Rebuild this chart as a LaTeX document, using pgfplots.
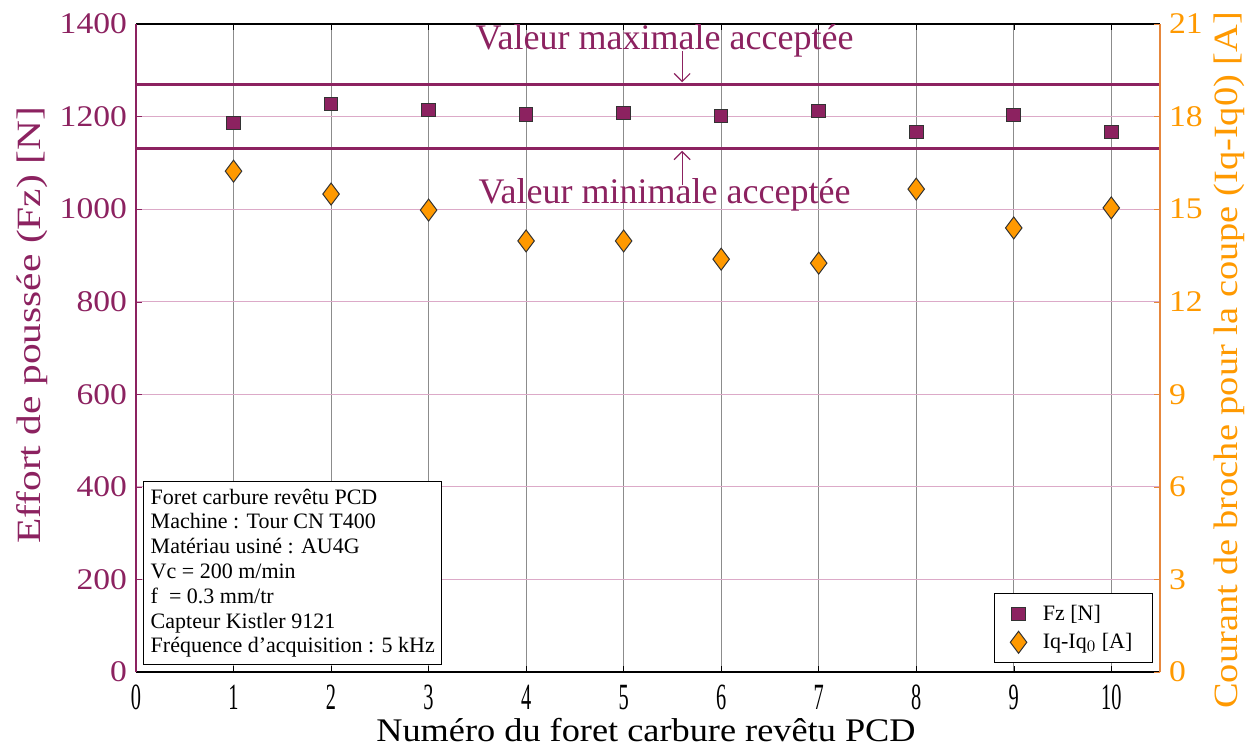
\documentclass[border=0pt]{standalone}
\usepackage{pgfplots}
\pgfplotsset{compat=1.18}
\usepackage{fontspec}
\setmainfont{Liberation Serif}
\usepackage{graphicx}
\usetikzlibrary{arrows.meta}
\definecolor{prp}{RGB}{140,34,96}
\definecolor{org}{RGB}{255,153,0}
\definecolor{orgax}{RGB}{230,135,60}
\definecolor{pgrid}{RGB}{220,170,200}
\begin{document}
\begin{tikzpicture}
\pgfplotsset{
  common/.style={scale only axis, width=512pt, height=324pt,
    xmin=0, xmax=10.5,
    /pgf/number format/assume math mode=true,
    /pgf/number format/1000 sep={},
    tick align=inside, major tick length=3pt,
    clip=false},
}
\begin{axis}[common, name=ax1,
  ymin=0, ymax=1400,
  xtick={0,...,10}, ytick={0,200,...,1400},
  axis y line*=left,
  y axis line style={prp, line width=0.8pt},
  x axis line style={black, line width=0.8pt},
  xmajorgrids, ymajorgrids,
  x grid style={gray!90, line width=0.35pt},
  y grid style={pgrid, line width=0.45pt},
  ytick style={prp}, xtick style={black},
  xticklabel={\scalebox{0.55}[1]{\pgfmathprintnumber{\tick}}},
  yticklabel={\scalebox{1.12}[1]{\pgfmathprintnumber{\tick}}},
  xticklabel style={font=\fontsize{18.5}{19}\selectfont, black, yshift=-3pt},
  yticklabel style={font=\fontsize{15}{17}\selectfont, prp, xshift=-1pt},
  xlabel={\scalebox{1.1}[1]{Numéro du foret carbure revêtu PCD}},
  ylabel={\scalebox{1.22}[1]{Effort de poussée (Fz) [N]}},
  every axis x label/.style={at={(axis description cs:0.498,-0.0895)}, anchor=center, font=\fontsize{16.5}{18}\selectfont},
  every axis y label/.style={at={(axis description cs:-0.1016,0.535)}, rotate=90, anchor=center, font=\fontsize{17}{19}\selectfont, prp},
]
\addplot[prp, line width=1.5pt, forget plot] coordinates {(0,1270) (10.5,1270)};
\addplot[prp, line width=1.5pt, forget plot] coordinates {(0,1130) (10.5,1130)};
\addplot[only marks, mark=square*, mark size=3.4pt, mark options={fill=prp, draw=black!80, line width=0.5pt}]
  coordinates {(1,1186) (2,1227) (3,1214) (4,1205) (5,1208) (6,1201) (7,1212) (8,1167) (9,1203) (10,1167)};
\node[prp, font=\fontsize{18}{20}\selectfont] at (axis cs:5.42,1363) {Valeur maximale acceptée};
\node[prp, font=\fontsize{18}{20}\selectfont] at (axis cs:5.42,1030) {Valeur minimale acceptée};
\draw[prp, -{Straight Barb[length=4pt,width=8pt]}, line width=0.6pt] (axis cs:5.6,1342) -- (axis cs:5.6,1274);
\draw[prp, -{Straight Barb[length=4pt,width=8pt]}, line width=0.6pt] (axis cs:5.6,1052) -- (axis cs:5.6,1126);
\node[draw=black, fill=white, align=left, anchor=south west, inner sep=3.5pt,
  font=\fontsize{11}{12.4}\selectfont] at (axis cs:0.075,15)
  {Foret carbure revêtu PCD\\Machine : Tour CN T400\\Matériau usiné : AU4G\\Vc = 200 m/min\\f\ \ = 0.3 mm/tr\\Capteur Kistler 9121\\Fréquence d'acquisition : 5 kHz};
\end{axis}
\begin{axis}[common, name=ax2,
  ymin=0, ymax=21, ytick={0,3,...,21},
  axis y line*=right, axis x line=none,
  y axis line style={orgax, line width=0.8pt},
  ytick style={orgax},
  yticklabel={\scalebox{1.12}[1]{\pgfmathprintnumber{\tick}}},
  yticklabel style={font=\fontsize{15}{17}\selectfont, org, xshift=1pt},
  ylabel={\scalebox{1.13}[1]{Courant de broche pour la coupe (Iq-Iq0) [A]}},
  every axis y label/.style={at={(axis description cs:1.068,0.481)}, rotate=90, anchor=center, font=\fontsize{17}{19}\selectfont, org},
  legend style={at={(axis description cs:0.993,0.014)}, anchor=south east, draw=black, line width=0.5pt,
    font=\fontsize{11}{12}\selectfont, cells={anchor=west}, row sep=1pt, inner xsep=8pt, inner ysep=3.5pt},
]
\addlegendimage{only marks, mark=square*, mark size=3.4pt, mark options={fill=prp, draw=black!80, line width=0.5pt}}
\addlegendentry{\hspace*{6pt}Fz [N]}
\addplot[only marks, mark=diamond*, mark size=5.5pt, mark options={fill=org, draw=black!80, line width=0.5pt}]
  coordinates {(1,16.23) (2,15.49) (3,14.97) (4,13.97) (5,13.97) (6,13.38) (7,13.25) (8,15.65) (9,14.39) (10,15.04)};
\addlegendentry{\hspace*{6pt}Iq-Iq$_0$ [A]}
\end{axis}
\pgfresetboundingbox
\path (-68pt,-37pt) rectangle (555pt,336pt);
\end{tikzpicture}
\end{document}
